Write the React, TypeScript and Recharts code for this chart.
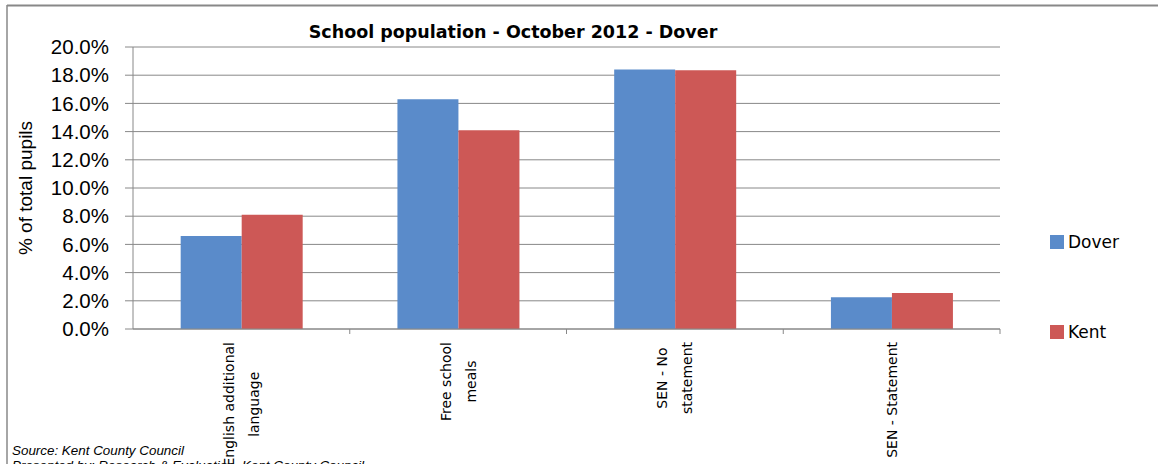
import React from 'react';
import { BarChart, Bar, XAxis, YAxis, CartesianGrid } from 'recharts';

const categoryLines: string[][] = [
  ['English additional', 'language'],
  ['Free school', 'meals'],
  ['SEN - No', 'statement'],
  ['SEN - Statement'],
];
const categories = categoryLines.map((l) => l.join(' '));
const doverValues = [6.6, 16.3, 18.4, 2.25];
const kentValues = [8.1, 14.1, 18.35, 2.55];
const yTicks = [0, 2, 4, 6, 8, 10, 12, 14, 16, 18, 20];
const seriesNames = ['Dover', 'Kent'];
const seriesColors = ['#5A8BCA', '#CD5856'];

const data = categories.map((c, i) => ({
  category: c,
  Dover: doverValues[i],
  Kent: kentValues[i],
}));

const GRID = '#888888';
const X_FONT = '14px "DejaVu Sans"';
const TICK_SIZE = 6;
const TICK_MARGIN = 8;

let ctx: CanvasRenderingContext2D | null = null;
function measure(text: string): number {
  if (!ctx) {
    const c = document.createElement('canvas');
    ctx = c.getContext('2d');
  }
  if (!ctx) return text.length * 8;
  ctx.font = X_FONT;
  return ctx.measureText(text).width;
}

function CategoryTick(props: any) {
  const { x, y, index, width, visibleTicksCount } = props;
  const lines = categoryLines[index] || [String(props.payload?.value ?? '')];
  const maxW = Math.max(...lines.map(measure));
  const top = y - 1;
  const cy = top + maxW / 2;
  const n = lines.length;
  const band = width && visibleTicksCount ? width / visibleTicksCount : 216.75;
  const axisY = y - TICK_SIZE - TICK_MARGIN;
  const leftX = x - band / 2;
  const rightX = x + band / 2;
  return (
    <g>
      {index > 0 && (
        <line x1={leftX} y1={axisY} x2={leftX} y2={axisY + 5} stroke={GRID} strokeWidth={1} />
      )}
      {index === visibleTicksCount - 1 && (
        <line x1={rightX} y1={axisY} x2={rightX} y2={axisY + 5} stroke={GRID} strokeWidth={1} />
      )}
      {lines.map((line, i) => {
        const cx = x + (i - (n - 1) / 2) * 25;
        return (
          <text
            key={i}
            x={cx}
            y={cy}
            transform={`rotate(-90 ${cx} ${cy})`}
            textAnchor="middle"
            dominantBaseline="central"
            fontFamily="DejaVu Sans"
            fontSize={14}
            fill="#000"
          >
            {line}
          </text>
        );
      })}
    </g>
  );
}

export default function App() {
  return (
    <div style={{ position: 'absolute', left: 0, top: 0, width: 1158, height: 464, background: '#fff', overflow: 'hidden' }}>
      <BarChart
        width={1158}
        height={464}
        data={data}
        margin={{ top: 47, right: 158, bottom: 35, left: 33 }}
        barCategoryGap="22%"
        barGap={0}
      >
        <CartesianGrid vertical={false} stroke={GRID} strokeWidth={1} />
        <XAxis
          dataKey="category"
          height={100}
          interval={0}
          tickLine={false}
          tickSize={TICK_SIZE}
          tickMargin={TICK_MARGIN}
          axisLine={{ stroke: GRID, strokeWidth: 1 }}
          tick={<CategoryTick />}
        />
        <YAxis
          width={100}
          domain={[0, 20]}
          ticks={yTicks}
          interval={0}
          tickFormatter={(v: number) => v.toFixed(1) + '%'}
          tickSize={8}
          tickMargin={16}
          tickLine={{ stroke: GRID, strokeWidth: 1 }}
          axisLine={{ stroke: GRID, strokeWidth: 1 }}
          tick={{ fill: '#000', fontSize: 20.5, fontFamily: 'Liberation Sans' }}
        />
        {seriesNames.map((s, i) => (
          <Bar key={s} dataKey={s} fill={seriesColors[i]} isAnimationActive={false} />
        ))}
      </BarChart>
      <svg
        width={1158}
        height={464}
        style={{ position: 'absolute', left: 0, top: 0, pointerEvents: 'none' }}
      >
        <line x1={7} y1={5.5} x2={1158} y2={5.5} stroke={GRID} strokeWidth={2} />
        <line x1={7} y1={5} x2={7} y2={464} stroke={GRID} strokeWidth={1.5} />
        <text
          x={513}
          y={32}
          textAnchor="middle"
          dominantBaseline="central"
          fontFamily="DejaVu Sans"
          fontWeight="bold"
          fontSize={17.5}
          fill="#000"
        >
          School population - October 2012 - Dover
        </text>
        <text
          x={25}
          y={188}
          transform="rotate(-90 25 188)"
          textAnchor="middle"
          dominantBaseline="central"
          fontFamily="Liberation Sans"
          fontSize={19}
          fill="#000"
        >
          % of total pupils
        </text>
        {seriesNames.map((s, i) => {
          const cy = 242 + i * 90;
          return (
            <g key={s}>
              <rect x={1050} y={cy - 7} width={14} height={14} fill={seriesColors[i]} />
              <text
                x={1068}
                y={cy}
                dominantBaseline="central"
                fontFamily="DejaVu Sans"
                fontSize={17}
                fill="#000"
              >
                {s}
              </text>
            </g>
          );
        })}
        <text x={12} y={450} dominantBaseline="central" fontFamily="Liberation Sans" fontStyle="italic" fontSize={13.4} fill="#000">
          Source: Kent County Council
        </text>
        <text x={12} y={465} dominantBaseline="central" fontFamily="Liberation Sans" fontStyle="italic" fontSize={13.4} fill="#000">
          Presented by: Research &amp; Evaluation, Kent County Council
        </text>
      </svg>
    </div>
  );
}
